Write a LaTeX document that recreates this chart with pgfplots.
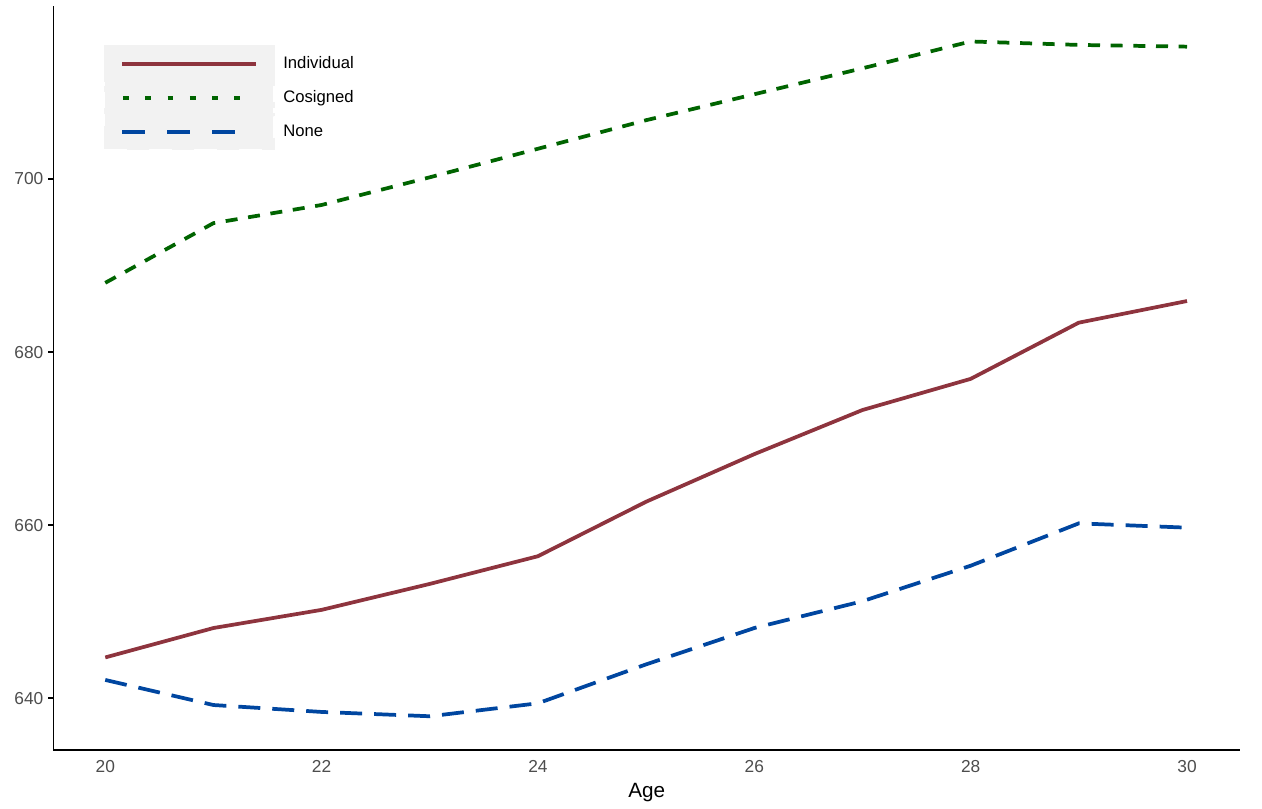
\documentclass[border=0pt]{standalone}
\usepackage{pgfplots}
\pgfplotsset{compat=1.18}
\usepackage{fontspec}
\setmainfont{Liberation Sans}
\definecolor{cred}{RGB}{142,52,62}
\definecolor{cgreen}{RGB}{0,100,0}
\definecolor{cblue}{RGB}{0,70,160}
\definecolor{tickgray}{RGB}{77,77,77}
\definecolor{keybg}{RGB}{242,242,242}
\begin{document}
\begin{tikzpicture}
\useasboundingbox (-40pt,-43.5pt) rectangle (906.5pt,562.5pt);
\begin{axis}[
  at={(0,0)}, anchor=south west,
  scale only axis, width=890pt, height=558pt,
  xmin=19.52, xmax=30.49, ymin=634, ymax=720,
  axis x line*=bottom, axis y line*=left,
  axis line style={line width=1.2pt, -},
  xtick={20,22,...,30}, ytick={640,660,680,700},
  x tick style={draw=none},
  y tick style={line width=1pt, black},
  tick align=outside, major tick length=4pt,
  ticklabel style={font=\fontsize{13}{15}\selectfont, text=tickgray},
  /pgf/number format/assume math mode=true,
  xlabel={Age}, xlabel style={font=\fontsize{15.5}{17}\selectfont, yshift=-1pt},
  legend style={at={(37.5pt,529pt)}, anchor=north west, draw=none, fill=none,
     font=\fontsize{12.5}{14}\selectfont, row sep=-2.6pt, inner sep=0pt,
     nodes={inner sep=0pt},
     /tikz/every even column/.append style={column sep=0pt}},
  legend cell align=left,
  legend image code/.code={%
     \fill[keybg] (-12.75pt,-12.65pt) rectangle (113.25pt,12.65pt);
     \draw[#1] (0pt,0pt) -- (100.5pt,0pt);},
  every axis plot/.append style={line width=2.8pt},
]
\addlegendimage{cred, line width=2.8pt}
\addlegendentry{\hspace{6pt}Individual}
\addlegendimage{cgreen, line width=2.8pt, line cap=butt, dash pattern=on 4.3pt off 12.4pt, dash phase=-0.5pt}
\addlegendentry{\hspace{6pt}Cosigned}
\addlegendimage{cblue, line width=2.8pt, line cap=butt, dash pattern=on 16.7pt off 17pt}
\addlegendentry{\hspace{6pt}None}
\addplot[forget plot, cred, line join=round] coordinates {
(20,644.7)(21,648.1)(22,650.2)(23,653.2)(24,656.4)(25,662.7)(26,668.2)(27,673.3)(28,676.9)(29,683.4)(30,685.9)};
\addplot[forget plot, cgreen, line cap=butt, dash pattern=on 9pt off 8pt] coordinates {
(20,688.0)(21,694.9)(22,697.0)(23,700.2)(24,703.5)(25,706.8)(26,709.8)(27,712.8)(28,715.9)(29,715.5)(30,715.3)};
\addplot[forget plot, cblue, line cap=butt, dash pattern=on 16.5pt off 9pt] coordinates {
(20,642.1)(21,639.2)(22,638.4)(23,637.9)(24,639.4)(25,643.9)(26,648.1)(27,651.2)(28,655.3)(29,660.2)(30,659.7)};
\end{axis}
\end{tikzpicture}
\end{document}
